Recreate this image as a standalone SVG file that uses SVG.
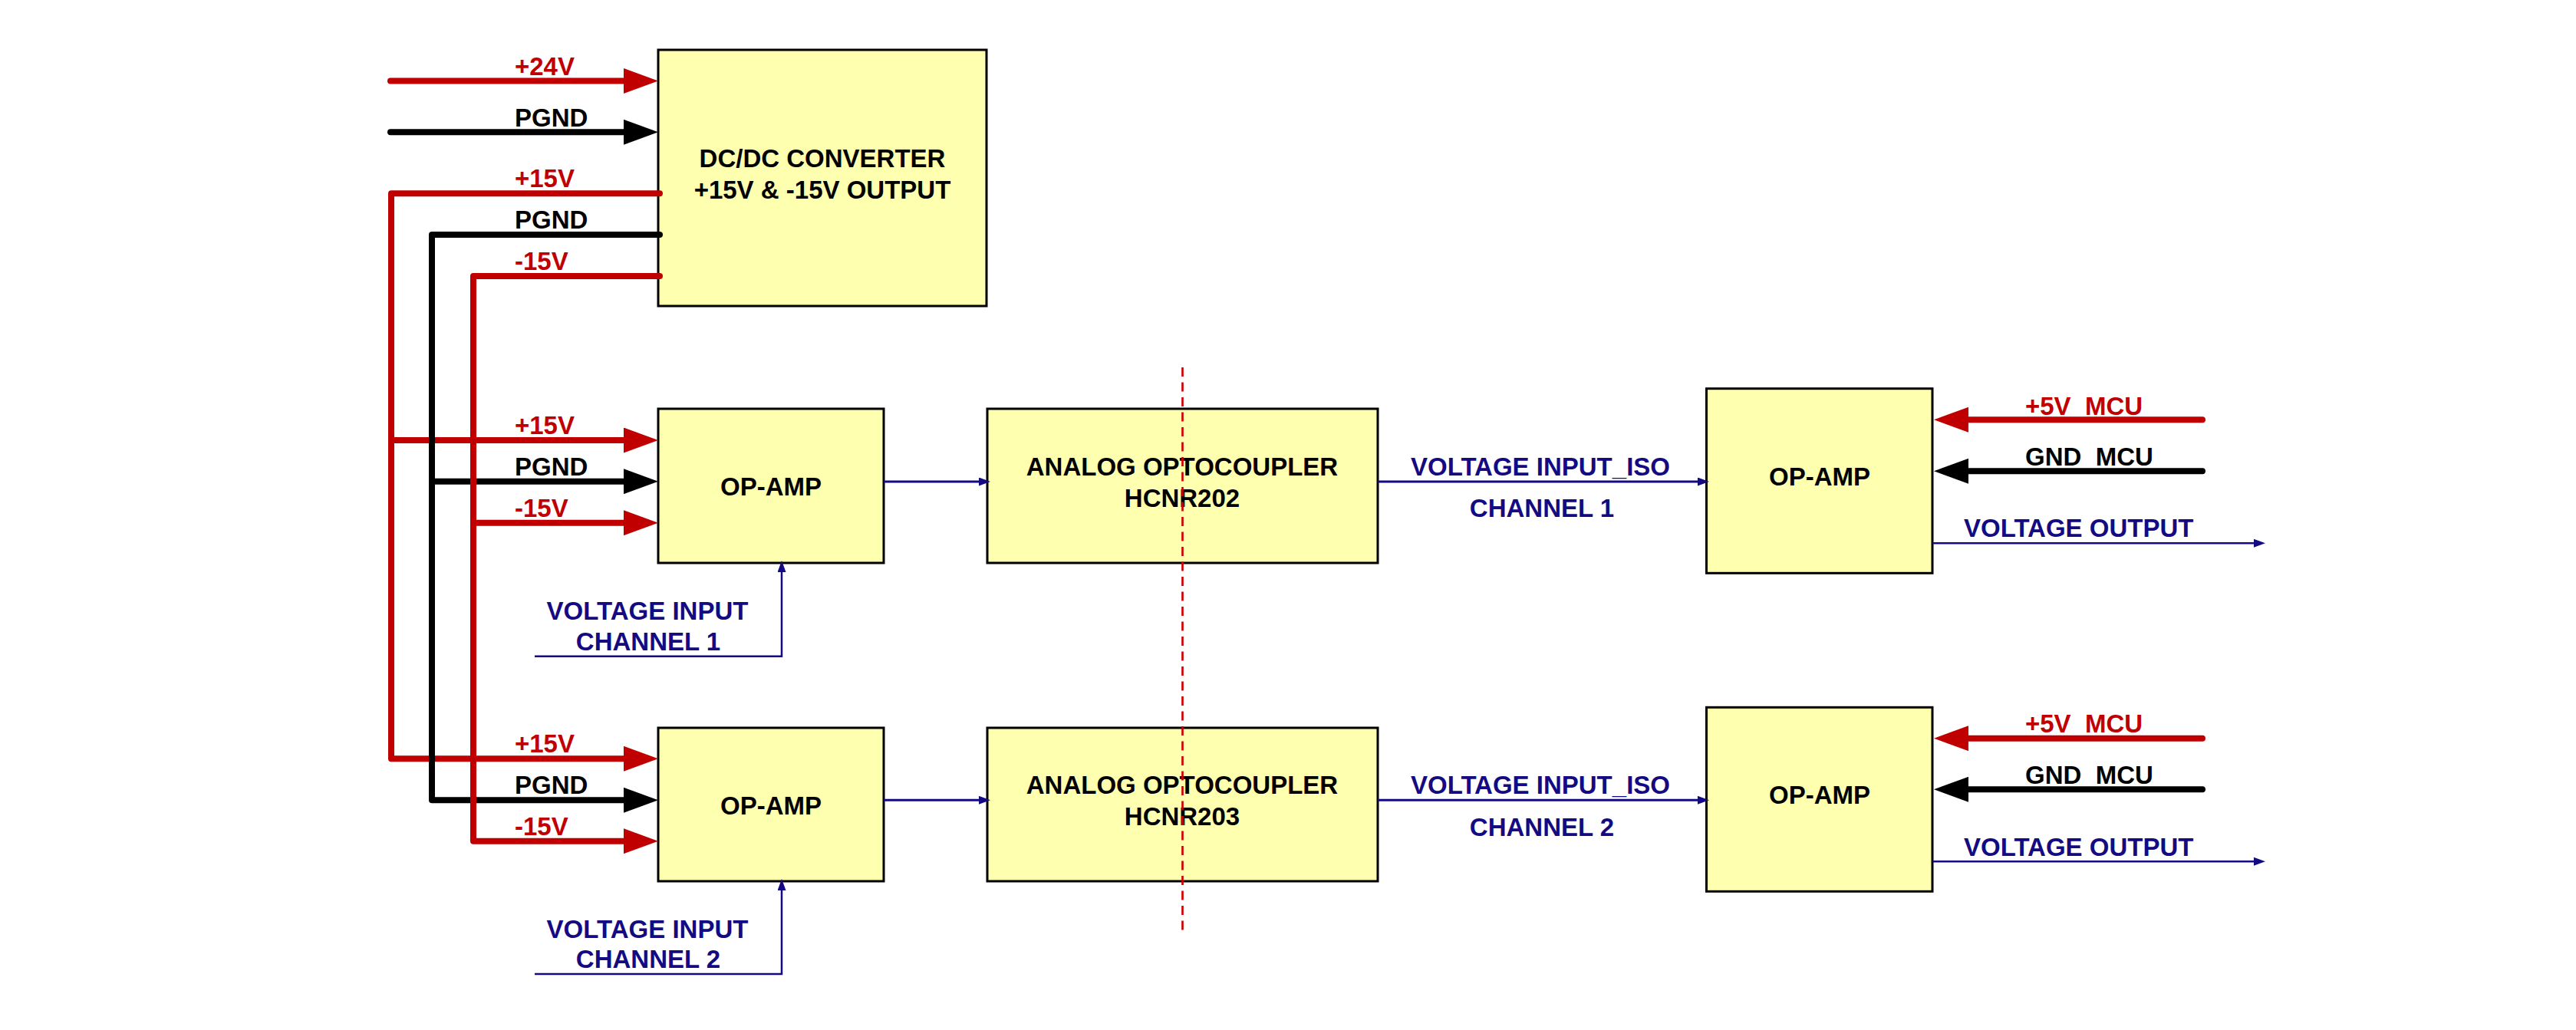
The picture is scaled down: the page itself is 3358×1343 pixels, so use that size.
<svg xmlns="http://www.w3.org/2000/svg" width="3358" height="1343" viewBox="0 0 3358 1343">
<style>
text{font-family:"Liberation Sans",Arial,sans-serif;font-weight:bold;font-size:33px}
.box{fill:#FFFFB0;stroke:#000;stroke-width:3}
.nt{fill:#000;text-anchor:middle}
.r{fill:#C00000}
.k{fill:#000}
.b{fill:#140A82}
.c{text-anchor:middle}
.wr{fill:none;stroke:#C00000;stroke-width:8;stroke-linecap:round;stroke-linejoin:round}
.wk{fill:none;stroke:#000;stroke-width:8;stroke-linecap:round;stroke-linejoin:round}
.wb{fill:none;stroke:#140A82;stroke-width:3}
.wb2{fill:none;stroke:#140A82;stroke-width:2.5}
.dash{fill:none;stroke:#D00000;stroke-width:2.7;stroke-dasharray:12 7.5}
</style>
<defs>
<marker id="aR" viewBox="0 0 45 33" refX="0" refY="16.5" markerWidth="45" markerHeight="33" markerUnits="userSpaceOnUse" orient="auto"><path d="M0,0 L45,16.5 L0,33 Z" fill="#C00000"/></marker>
<marker id="aK" viewBox="0 0 45 33" refX="0" refY="16.5" markerWidth="45" markerHeight="33" markerUnits="userSpaceOnUse" orient="auto"><path d="M0,0 L45,16.5 L0,33 Z" fill="#000"/></marker>
<marker id="aB" viewBox="0 0 15 11" refX="0" refY="5.5" markerWidth="15" markerHeight="11" markerUnits="userSpaceOnUse" orient="auto"><path d="M0,0 L15,5.5 L0,11 Z" fill="#140A82"/></marker>
</defs>

<g id="dcdc">
<rect class="box" x="858" y="65" width="428" height="334"/>
<text class="nt" x="1072" y="218">DC/DC CONVERTER</text>
<text class="nt" x="1072" y="259">+15V &amp; -15V OUTPUT</text>
</g>
<g id="opamp1">
<rect class="box" x="858" y="533" width="294" height="201"/>
<text class="nt" x="1005" y="646">OP-AMP</text>
</g>
<g id="opto1">
<rect class="box" x="1287" y="533" width="509" height="201"/>
<text class="nt" x="1541" y="620">ANALOG OPTOCOUPLER</text>
<text class="nt" x="1541" y="661">HCNR202</text>
</g>
<g id="opamp_out1">
<rect class="box" x="2224.5" y="506.7" width="294.5" height="240.6"/>
<text class="nt" x="2372" y="633">OP-AMP</text>
</g>
<g id="opamp2">
<rect class="box" x="858" y="949" width="294" height="200"/>
<text class="nt" x="1005" y="1062">OP-AMP</text>
</g>
<g id="opto2">
<rect class="box" x="1287" y="949" width="509" height="200"/>
<text class="nt" x="1541" y="1035">ANALOG OPTOCOUPLER</text>
<text class="nt" x="1541" y="1076">HCNR203</text>
</g>
<g id="opamp_out2">
<rect class="box" x="2224.5" y="922.3" width="294.5" height="240"/>
<text class="nt" x="2372" y="1048">OP-AMP</text>
</g>

<g id="connectors">
<path class="wr" d="M509,105.5 H813" marker-end="url(#aR)"/>
<path class="wk" d="M509,172.3 H813" marker-end="url(#aK)"/>
<path class="wr" d="M860,252.3 H510 V989.3 H813" marker-end="url(#aR)"/>
<path class="wr" d="M510,574 H813" marker-end="url(#aR)"/>
<path class="wk" d="M860,306 H563 V1043.3 H813" marker-end="url(#aK)"/>
<path class="wk" d="M563,627.7 H813" marker-end="url(#aK)"/>
<path class="wr" d="M860,360 H617 V1096.7 H813" marker-end="url(#aR)"/>
<path class="wr" d="M617,681.7 H813" marker-end="url(#aR)"/>

<path class="wr" d="M2871,547.3 H2566" marker-end="url(#aR)"/>
<path class="wk" d="M2871,614.3 H2566" marker-end="url(#aK)"/>
<path class="wr" d="M2871,962.7 H2566" marker-end="url(#aR)"/>
<path class="wk" d="M2871,1029.3 H2566" marker-end="url(#aK)"/>

<path class="wb" d="M1152,628 H1276" marker-end="url(#aB)"/>
<path class="wb" d="M1796,628 H2213" marker-end="url(#aB)"/>
<path class="wb2" d="M2519,708.3 H2938" marker-end="url(#aB)"/>
<path class="wb2" d="M697,855.7 H1019 V746" marker-end="url(#aB)"/>

<path class="wb" d="M1152,1043.3 H1276" marker-end="url(#aB)"/>
<path class="wb" d="M1796,1043.3 H2213" marker-end="url(#aB)"/>
<path class="wb2" d="M2519,1123.3 H2938" marker-end="url(#aB)"/>
<path class="wb2" d="M697,1270 H1019 V1161" marker-end="url(#aB)"/>

<path class="dash" d="M1541.5,479 V1218"/>
</g>

<g id="labels">
<text class="r" x="671" y="98">+24V</text>
<text class="k" x="671" y="165">PGND</text>
<text class="r" x="671" y="244">+15V</text>
<text class="k" x="671" y="298">PGND</text>
<text class="r" x="671" y="352">-15V</text>
<text class="r" x="671" y="566">+15V</text>
<text class="k" x="671" y="620">PGND</text>
<text class="r" x="671" y="674">-15V</text>
<text class="r" x="671" y="981">+15V</text>
<text class="k" x="671" y="1035">PGND</text>
<text class="r" x="671" y="1089">-15V</text>
<text class="b c" x="844" y="808">VOLTAGE INPUT</text>
<text class="b c" x="845" y="848">CHANNEL 1</text>
<text class="b c" x="844" y="1223">VOLTAGE INPUT</text>
<text class="b c" x="845" y="1262">CHANNEL 2</text>
<text class="b c" x="2008" y="620">VOLTAGE INPUT_ISO</text>
<text class="b c" x="2010" y="674">CHANNEL 1</text>
<text class="b c" x="2008" y="1035">VOLTAGE INPUT_ISO</text>
<text class="b c" x="2010" y="1090">CHANNEL 2</text>
<text class="r" x="2640" y="541">+5V&#160; MCU</text>
<text class="k" x="2640" y="607">GND&#160; MCU</text>
<text class="b" x="2560" y="700">VOLTAGE OUTPUT</text>
<text class="r" x="2640" y="955">+5V&#160; MCU</text>
<text class="k" x="2640" y="1022">GND&#160; MCU</text>
<text class="b" x="2560" y="1116">VOLTAGE OUTPUT</text>
</g>
</svg>
